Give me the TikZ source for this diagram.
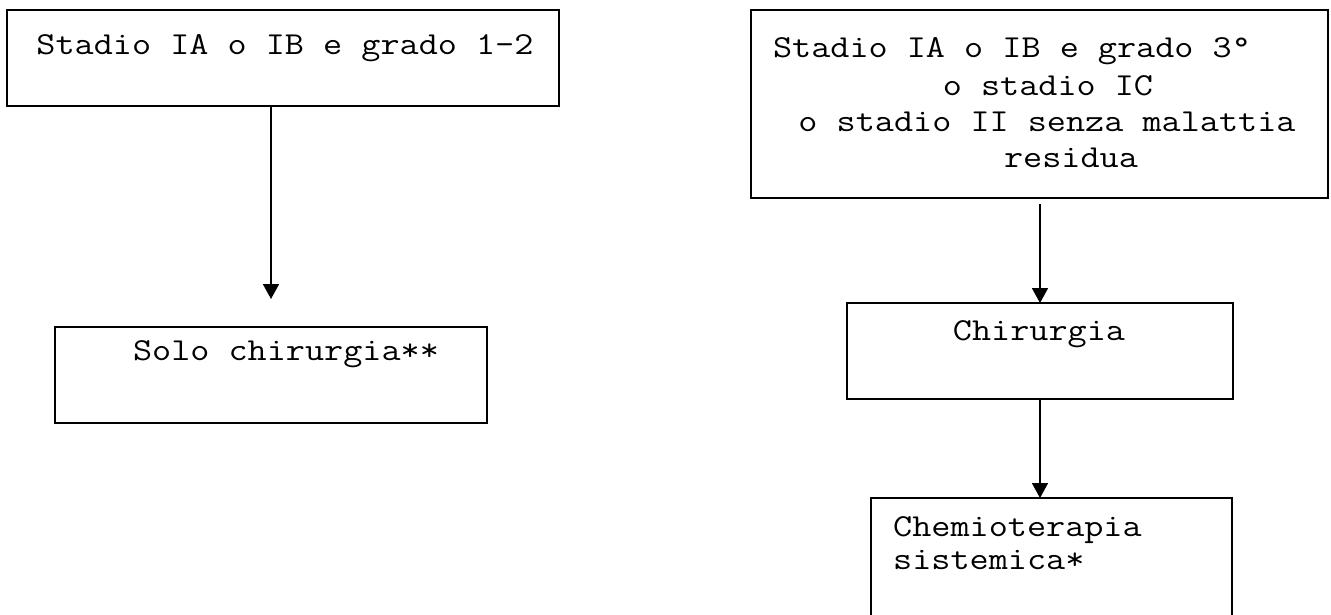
\documentclass[tikz,border=0pt]{standalone}
\usepackage{fontspec}
\setmonofont{Latin Modern Mono}[FakeStretch=1.16]
\usetikzlibrary{arrows.meta}
\begin{document}
\begin{tikzpicture}[x=1pt,y=-1pt,
  box/.style={draw,line width=1.6pt,rectangle,inner sep=0pt,outer sep=0pt},
  txt/.style={anchor=base,font=\ttfamily\fontsize{32}{36.5}\selectfont,inner sep=0pt},
  ltxt/.style={txt,anchor=base west},
  arr/.style={line width=1.8pt,-{Triangle[width=16pt,length=15pt]}}]
\useasboundingbox (0,0) rectangle (1331,614);
% boxes
\node[box,minimum width=552pt,minimum height=96pt] (b1) at (283,58) {};
\node[box,minimum width=432pt,minimum height=96pt] (b2) at (271,375) {};
\node[box,minimum width=577pt,minimum height=188pt] (b3) at (1039.5,104) {};
\node[box,minimum width=386pt,minimum height=96pt] (b4) at (1040,351) {};
\node[box,minimum width=361pt,minimum height=162pt] (b5) at (1051.5,579) {};
% texts
\node[txt] (t1) at (285,54) {Stadio IA o IB e grado 1-2};
\node[txt] (t2) at (286,360) {Solo chirurgia**};
\node[txt] (t3a) at (1012,57) {Stadio IA o IB e grado 3°};
\node[txt] (t3b) at (1048,95) {o stadio IC};
\node[txt] (t3c) at (1047,131) {o stadio II senza malattia};
\node[txt] (t3d) at (1071,167) {residua};
\node[txt] (t4) at (1039,340) {Chirurgia};
\node[ltxt] (t5a) at (893,536) {Chemioterapia};
\node[ltxt] (t5b) at (893,569) {sistemica*};
% connectors
\coordinate (e1) at (271,299);
\coordinate (s2) at (1040,204);
\draw[arr] (b1.south -| e1) -- (e1);
\draw[arr] (s2) -- (b4.north);
\draw[arr] (b4.south) -- (b5.north -| b4.south);
\end{tikzpicture}
\end{document}
